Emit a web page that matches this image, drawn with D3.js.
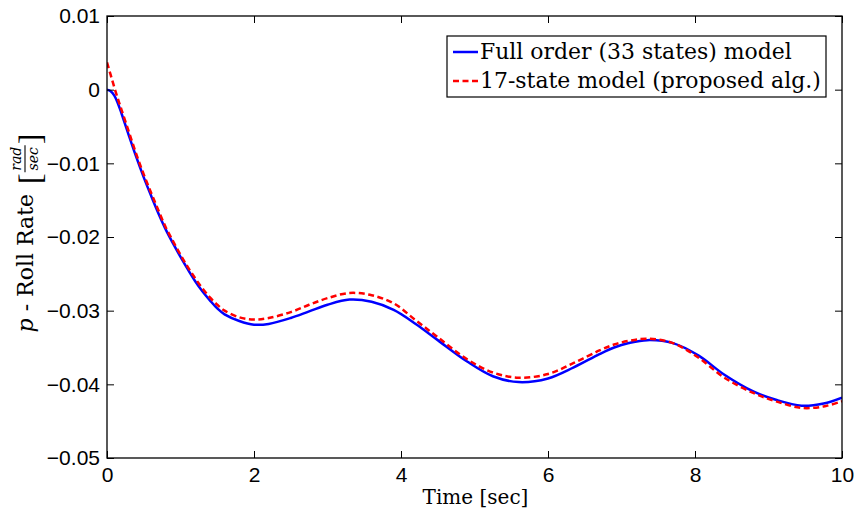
<!DOCTYPE html>
<html>
<head>
<meta charset="utf-8">
<script src="https://cdn.jsdelivr.net/npm/d3@7"></script>
<style>
  html, body { margin: 0; padding: 0; background: #fff; }
  svg { display: block; }
  text { white-space: pre; }
</style>
</head>
<body>
<svg id="chart" width="856" height="512"></svg>
<script>
// Simulation time grid [sec]
const timeSec = [0, 0.05, 0.1, 0.15, 0.2, 0.3, 0.4, 0.5, 0.6, 0.7, 0.8, 0.9, 1.0, 1.1, 1.2, 1.3, 1.4, 1.5, 1.6, 1.8,
  2.0, 2.2, 2.5, 2.75, 3.0, 3.3, 3.6, 3.9, 4.2, 4.5, 4.9, 5.25, 5.6, 6.0, 6.35, 6.7, 6.9, 7.1, 7.35, 7.7,
  8.05, 8.4, 8.8, 9.1, 9.45, 9.75, 10];

// Roll rate response, full order (33 states) model [rad/sec]
const rollFull = [0, -0.0002, -0.0008, -0.0019, -0.0033, -0.0063, -0.0092, -0.0119, -0.0144, -0.0168, -0.0190, -0.0209,
  -0.0227, -0.0244, -0.0260, -0.0274, -0.0286, -0.0297, -0.0305, -0.0314, -0.0319, -0.0318, -0.0310,
  -0.0301, -0.0292, -0.0285, -0.0288, -0.0299, -0.0318, -0.0340, -0.0369, -0.0389, -0.0397, -0.0392,
  -0.0377, -0.0359, -0.0350, -0.0344, -0.0340, -0.0344, -0.0361, -0.0387, -0.0410, -0.0421, -0.0429, -0.0426, -0.0418];

// Roll rate response, reduced 17-state model [rad/sec]
const rollReduced = [0.0037, 0.0020, 0.0003, -0.0013, -0.0028, -0.0058, -0.0088, -0.0115, -0.0140, -0.0164, -0.0187, -0.0206,
  -0.0224, -0.0241, -0.0256, -0.0270, -0.0282, -0.0292, -0.0300, -0.0309, -0.0312, -0.0310, -0.0302,
  -0.0292, -0.0283, -0.0276, -0.0279, -0.0290, -0.0313, -0.0336, -0.0366, -0.0384, -0.0391, -0.0386,
  -0.0371, -0.0354, -0.0346, -0.0341, -0.0338, -0.0344, -0.0364, -0.0391, -0.0412, -0.0423, -0.0432, -0.0430, -0.0423];

const seriesNames = ["Full order (33 states) model", "17-state model (proposed alg.)"];
const seriesColors = ["#0000ff", "#ff0000"];

const xTicks = [0, 2, 4, 6, 8, 10];
const xTickLabels = ["0", "2", "4", "6", "8", "10"];
const yTicks = [-0.05, -0.04, -0.03, -0.02, -0.01, 0, 0.01];
const yTickLabels = ["\u22120.05", "\u22120.04", "\u22120.03", "\u22120.02", "\u22120.01", "0", "0.01"];

// ---- layout ----
const svg = d3.select("#chart");
const plot = { left: 107, top: 16, right: 842, bottom: 458 };
const tickLen = 7;
const sans = "'Liberation Sans', Arial, Helvetica, sans-serif";
const serif = "'DejaVu Serif', 'Liberation Serif', serif";

const x = d3.scaleLinear().domain([0, 10]).range([plot.left, plot.right]);
const y = d3.scaleLinear().domain([-0.05, 0.01]).range([plot.bottom, plot.top]);

svg.append("rect")
  .attr("x", plot.left).attr("y", plot.top)
  .attr("width", plot.right - plot.left).attr("height", plot.bottom - plot.top)
  .attr("fill", "#fff");

// ---- curves ----
svg.append("clipPath").attr("id", "plotclip").append("rect")
  .attr("x", plot.left).attr("y", plot.top)
  .attr("width", plot.right - plot.left).attr("height", plot.bottom - plot.top);

const line = d3.line()
  .x((d, i) => x(timeSec[i]))
  .y(d => y(d))
  .curve(d3.curveCatmullRom.alpha(0.5));

const curves = svg.append("g").attr("clip-path", "url(#plotclip)");
curves.append("path")
  .datum(rollFull)
  .attr("d", line)
  .attr("fill", "none")
  .attr("stroke", seriesColors[0])
  .attr("stroke-width", 2.5)
  .attr("stroke-linejoin", "round");
curves.append("path")
  .datum(rollReduced)
  .attr("d", line)
  .attr("fill", "none")
  .attr("stroke", seriesColors[1])
  .attr("stroke-width", 2.5)
  .attr("stroke-dasharray", "6,3.5");

// ---- axes (ticks point inward on all four sides) ----
function styleAxis(g) {
  g.select(".domain").remove();
  g.selectAll(".tick line").attr("stroke", "#000").attr("stroke-width", 1);
  g.selectAll(".tick text").attr("fill", "#000").style("font-family", sans).style("font-size", "21px");
}

svg.append("g")
  .attr("transform", `translate(0,${plot.bottom})`)
  .call(d3.axisBottom(x).tickValues(xTicks).tickFormat((d, i) => xTickLabels[i])
    .tickSizeInner(-tickLen).tickSizeOuter(0).tickPadding(9))
  .call(styleAxis);

svg.append("g")
  .attr("transform", `translate(0,${plot.top})`)
  .call(d3.axisTop(x).tickValues(xTicks).tickFormat("")
    .tickSizeInner(-tickLen).tickSizeOuter(0))
  .call(styleAxis);

svg.append("g")
  .attr("transform", `translate(${plot.left},0)`)
  .call(d3.axisLeft(y).tickValues(yTicks).tickFormat((d, i) => yTickLabels[i])
    .tickSizeInner(-tickLen).tickSizeOuter(0).tickPadding(7))
  .call(styleAxis);

svg.append("g")
  .attr("transform", `translate(${plot.right},0)`)
  .call(d3.axisRight(y).tickValues(yTicks).tickFormat("")
    .tickSizeInner(-tickLen).tickSizeOuter(0))
  .call(styleAxis);

// frame
svg.append("rect")
  .attr("x", plot.left).attr("y", plot.top)
  .attr("width", plot.right - plot.left).attr("height", plot.bottom - plot.top)
  .attr("fill", "none").attr("stroke", "#000").attr("stroke-width", 1.3);

// ---- x label ----
svg.append("text")
  .attr("x", (plot.left + plot.right) / 2 + 1)
  .attr("y", 504)
  .attr("text-anchor", "middle")
  .style("font-family", serif).style("font-size", "20px")
  .text("Time [sec]");

// ---- y label: p - Roll Rate [rad/sec] ----
const ylab = svg.append("g").attr("transform", "translate(33,233) rotate(-90)");
const ylabInner = ylab.append("g");
const mainTxt = ylabInner.append("text")
  .attr("x", 0).attr("y", 0)
  .style("font-family", serif).style("font-size", "22px");
mainTxt.append("tspan").style("font-style", "italic").text("p");
mainTxt.append("tspan").text(" - Roll Rate\u00a0");
let cursor = mainTxt.node().getBBox().width + 3;

const lb = ylabInner.append("text")
  .attr("x", cursor).attr("y", 8)
  .style("font-family", "'Liberation Serif', serif").style("font-size", "32px")
  .text("[");
cursor += lb.node().getBBox().width + 1;

const num = ylabInner.append("text")
  .attr("y", -12)
  .attr("text-anchor", "middle")
  .style("font-family", serif).style("font-style", "italic").style("font-size", "14px")
  .text("rad");
const den = ylabInner.append("text")
  .attr("y", 5)
  .attr("text-anchor", "middle")
  .style("font-family", serif).style("font-style", "italic").style("font-size", "14px")
  .text("sec");
const fracW = Math.max(num.node().getBBox().width, den.node().getBBox().width) + 3;
num.attr("x", cursor + fracW / 2);
den.attr("x", cursor + fracW / 2);
ylabInner.append("line")
  .attr("x1", cursor).attr("x2", cursor + fracW)
  .attr("y1", -8).attr("y2", -8)
  .attr("stroke", "#000").attr("stroke-width", 1.1);
cursor += fracW + 1;

ylabInner.append("text")
  .attr("x", cursor).attr("y", 8)
  .style("font-family", "'Liberation Serif', serif").style("font-size", "32px")
  .text("]");
// centre the assembled label on its anchor
const yb = ylabInner.node().getBBox();
ylabInner.attr("transform", `translate(${-(yb.x + yb.width / 2)},0)`);

// ---- legend ----
const legend = { x: 447, y: 36, w: 379, h: 61 };
const lg = svg.append("g");
lg.append("rect")
  .attr("x", legend.x).attr("y", legend.y)
  .attr("width", legend.w).attr("height", legend.h)
  .attr("fill", "#fff").attr("stroke", "#000").attr("stroke-width", 1.2);

const rowBase = [59, 88];
seriesNames.forEach((name, i) => {
  lg.append("line")
    .attr("x1", legend.x + 6).attr("x2", legend.x + 31)
    .attr("y1", rowBase[i] - 7).attr("y2", rowBase[i] - 7)
    .attr("stroke", seriesColors[i]).attr("stroke-width", 2.5)
    .attr("stroke-dasharray", i === 1 ? "6,3.5" : null);
  lg.append("text")
    .attr("class", "legtext")
    .attr("x", legend.x + 33).attr("y", rowBase[i])
    .style("font-family", serif).style("font-size", "20px")
    .text(name);
});

// size the legend text so the first entry spans its slot
const first = lg.select(".legtext").node().getComputedTextLength();
const legFont = 20 * 312 / first;
lg.selectAll(".legtext").style("font-size", legFont + "px");
</script>
</body>
</html>
